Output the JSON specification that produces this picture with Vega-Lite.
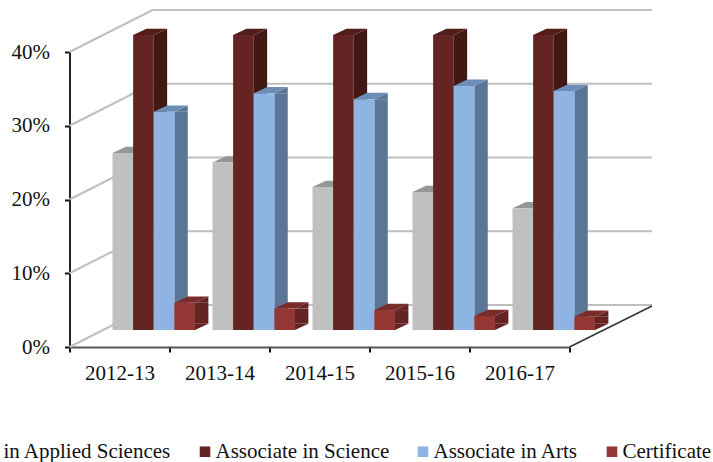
{"$schema":"https://vega.github.io/schema/vega-lite/v6.json","width":500,"height":295,"autosize":"none","padding":{"left":69.5,"top":52,"right":143.5,"bottom":115},"background":"white","config":{"view":{"stroke":null}},"datasets":{"bars":[
{"year":"2012-13","series":"Associate in Applied Sciences","share":0.24},{"year":"2012-13","series":"Associate in Science","share":0.4},{"year":"2012-13","series":"Associate in Arts","share":0.296},{"year":"2012-13","series":"Certificate","share":0.037},
{"year":"2013-14","series":"Associate in Applied Sciences","share":0.227},{"year":"2013-14","series":"Associate in Science","share":0.4},{"year":"2013-14","series":"Associate in Arts","share":0.321},{"year":"2013-14","series":"Certificate","share":0.029},
{"year":"2014-15","series":"Associate in Applied Sciences","share":0.194},{"year":"2014-15","series":"Associate in Science","share":0.4},{"year":"2014-15","series":"Associate in Arts","share":0.313},{"year":"2014-15","series":"Certificate","share":0.027},
{"year":"2015-16","series":"Associate in Applied Sciences","share":0.187},{"year":"2015-16","series":"Associate in Science","share":0.4},{"year":"2015-16","series":"Associate in Arts","share":0.331},{"year":"2015-16","series":"Certificate","share":0.019},
{"year":"2016-17","series":"Associate in Applied Sciences","share":0.165},{"year":"2016-17","series":"Associate in Science","share":0.4},{"year":"2016-17","series":"Associate in Arts","share":0.324},{"year":"2016-17","series":"Certificate","share":0.018}],"ticks":[{"tick":0},{"tick":0.1},{"tick":0.2},{"tick":0.3},{"tick":0.4}]},
"data":{"name":"bars"},
"resolve":{"scale":{"fill":"independent","x":"independent","xOffset":"independent"},"axis":{"x":"independent"}},
"encoding":{
"xOffset":{"field":"series","type":"nominal","scale":{"domain":["Associate in Applied Sciences","Associate in Science","Associate in Arts","Certificate"],"paddingInner":0,"paddingOuter":0}},
"y":{"field":"share","type":"quantitative","stack":null,"title":null,"scale":{"domain":[0,0.4],"nice":false},"axis":{"values":[0,0.1,0.2,0.3,0.4],"format":".0%","labelFont":"Liberation Serif","labelFontSize":21,"labelColor":"#111","labelPadding":15,"tickSize":5,"tickWidth":2,"tickColor":"#111","domainColor":"#222","domainWidth":2,"grid":false}}
},
"layer":[
{"mark":{"type":"bar","opacity":0},"encoding":{"xOffset":null,"x":{"field":"year","type":"nominal","title":null,"scale":{"paddingInner":0,"paddingOuter":0},"axis":{"tickBand":"extent","labelAngle":0,"labelFont":"Liberation Serif","labelFontSize":21,"labelColor":"#111","labelPadding":10,"tickSize":5,"tickWidth":2,"tickColor":"#111","domainColor":"#555","domainWidth":2,"grid":false}}}},
{"data":{"name":"ticks"},"mark":{"type":"point","shape":"M-25,0L-16.7,-4.2H33.25","size":400,"filled":false,"stroke":"#BFBFBF","strokeWidth":2,"opacity":1},"encoding":{"xOffset":null,"y":{"field":"tick","type":"quantitative","title":null}}},
{"data":{"values":[{"tick":0}]},"mark":{"type":"point","shape":"M25,0L33.25,-4.1","size":400,"filled":false,"stroke":"#333","strokeWidth":1.5,"opacity":1},"encoding":{"xOffset":null,"y":{"field":"tick","type":"quantitative","title":null}}},
{"mark":{"type":"bar","width":13.4,"yOffset":-17,"y2Offset":-23.3},"encoding":{"x":{"field":"year","type":"nominal","axis":null,"scale":{"range":[51.25,551.25],"paddingInner":0.175,"paddingOuter":0.0875}},"y2":{"datum":0},"fill":{"field":"series","legend":null,"scale":{"domain":["Associate in Applied Sciences","Associate in Science","Associate in Arts","Certificate"],"range":["#8F8F8F","#421815","#5B7596","#632423"]}}}},
{"mark":{"type":"point","shape":"M1.03,0V-.63H2.37Z","size":400,"filled":true,"opacity":1,"yOffset":-17},"encoding":{"xOffset":{"field":"series","type":"nominal","scale":{"type":"point","padding":0.5,"domain":["Associate in Applied Sciences","Associate in Science","Associate in Arts","Certificate"]}},"x":{"field":"year","type":"nominal","axis":null,"scale":{"range":[34.25,534.25],"paddingInner":0.175,"paddingOuter":0.0875}},"y":{"datum":0,"type":"quantitative"},"fill":{"field":"series","legend":null,"scale":{"domain":["Associate in Applied Sciences","Associate in Science","Associate in Arts","Certificate"],"range":["#8F8F8F","#421815","#5B7596","#632423"]}}}},
{"mark":{"type":"point","shape":"M1.03,0L2.37,-.63V0Z","size":400,"filled":true,"opacity":1,"yOffset":-17},"encoding":{"xOffset":{"field":"series","type":"nominal","scale":{"type":"point","padding":0.5,"domain":["Associate in Applied Sciences","Associate in Science","Associate in Arts","Certificate"]}},"x":{"field":"year","type":"nominal","axis":null,"scale":{"range":[34.25,534.25],"paddingInner":0.175,"paddingOuter":0.0875}},"fill":{"field":"series","legend":null,"scale":{"domain":["Associate in Applied Sciences","Associate in Science","Associate in Arts","Certificate"],"range":["#8F8F8F","#421815","#5B7596","#632423"]}}}},
{"mark":{"type":"point","shape":"M-1.03,0L.31,-.63H2.37L1.03,0Z","size":400,"filled":true,"opacity":1,"yOffset":-17},"encoding":{"xOffset":{"field":"series","type":"nominal","scale":{"type":"point","padding":0.5,"domain":["Associate in Applied Sciences","Associate in Science","Associate in Arts","Certificate"]}},"x":{"field":"year","type":"nominal","axis":null,"scale":{"range":[34.25,534.25],"paddingInner":0.175,"paddingOuter":0.0875}},"fill":{"field":"series","legend":null,"scale":{"domain":["Associate in Applied Sciences","Associate in Science","Associate in Arts","Certificate"],"range":["#969696","#511D1B","#6B8DB6","#7A2C2A"]}}}},
{"mark":{"type":"bar","yOffset":-17,"y2Offset":-17},"encoding":{"x":{"field":"year","type":"nominal","axis":null,"scale":{"range":[34.25,534.25],"paddingInner":0.175,"paddingOuter":0.0875}},"y2":{"datum":0},"fill":{"field":"series","title":null,"scale":{"domain":["Associate in Applied Sciences","Associate in Science","Associate in Arts","Certificate"],"range":["#C0C0C0","#632423","#8DB4E2","#953735"]},"legend":{"orient":"none","legendX":-174,"legendY":389,"direction":"horizontal","columns":4,"columnPadding":23,"symbolType":"square","symbolSize":112,"symbolStrokeWidth":0,"symbolOffset":0,"labelOffset":0,"labelFont":"Liberation Serif","labelFontSize":21,"labelColor":"#111","labelLimit":400,"gridAlign":"each","padding":0}}}}
]}
